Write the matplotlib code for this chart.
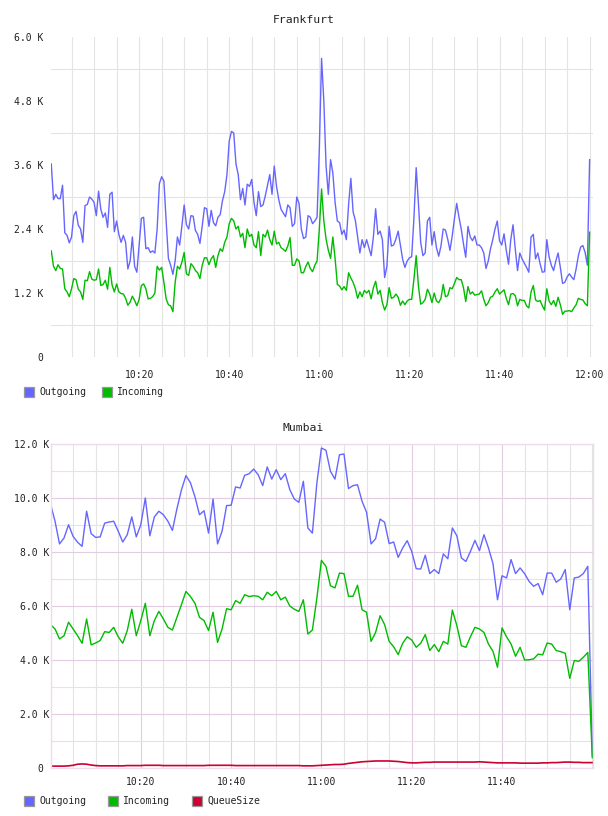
import matplotlib
matplotlib.use("Agg")
import matplotlib.pyplot as plt
import matplotlib.dates as mdates
from matplotlib.patches import Rectangle
from matplotlib.ticker import FixedLocator, FuncFormatter
import pandas as pd

# --- data (values in thousands) ---
# Frankfurt: one sample every 30 s, 10:00:30 .. 12:00:00
fra_outgoing = [
    3.62, 2.95, 3.05, 2.97, 2.97, 3.22, 2.33, 2.28, 2.14, 2.25,
    2.65, 2.73, 2.47, 2.40, 2.15, 2.84, 2.86, 3.00, 2.96, 2.90,
    2.65, 3.11, 2.77, 2.62, 2.70, 2.43, 3.05, 3.09, 2.35, 2.55,
    2.30, 2.15, 2.28, 2.15, 1.65, 1.80, 2.25, 1.70, 1.59, 2.10,
    2.60, 2.62, 2.03, 2.05, 1.96, 1.99, 1.95, 2.40, 3.25, 3.38,
    3.30, 2.55, 1.85, 1.72, 1.55, 1.80, 2.25, 2.10, 2.46, 2.85,
    2.48, 2.40,
    2.65, 2.64, 2.37, 2.30, 2.13, 2.45, 2.80, 2.78, 2.45, 2.75,
    2.52, 2.46, 2.62, 2.67, 2.93, 3.10, 3.42, 4.05, 4.23, 4.20,
    3.62, 3.42, 2.95, 3.16, 2.85, 3.24, 3.20, 3.33, 2.90, 2.65,
    3.10, 2.82, 2.85, 3.02, 3.22, 3.42, 3.05, 3.58, 3.20, 2.95,
    2.77, 2.70, 2.63, 2.85, 2.80, 2.45, 2.50, 3.00, 2.88, 2.40,
    2.22, 2.25, 2.65, 2.62, 2.50, 2.55, 2.62, 3.90,
    5.60,
    4.80, 3.58, 3.05, 3.70, 3.45, 2.90, 2.55, 2.52, 2.30, 2.38,
    2.20, 2.86, 3.35, 2.72, 2.56, 2.25, 1.95, 2.20, 2.05, 2.20,
    2.05, 1.90, 2.25, 2.78, 2.30, 2.36, 2.20, 1.49, 1.70, 2.45,
    2.08, 2.10, 2.21, 2.36, 2.10, 1.83, 1.68, 1.80, 1.86, 1.88,
    2.60, 3.55, 2.88, 2.15, 1.90, 1.95, 2.55, 2.62, 2.10, 2.35,
    2.05, 1.89, 2.08, 2.40, 2.38, 2.21, 2.00, 2.27, 2.60, 2.88,
    2.62,
    2.40, 2.12, 1.87, 2.45, 2.25, 2.18, 2.27, 2.10, 2.10, 2.05,
    1.95, 1.66, 1.80, 2.03, 2.20, 2.40, 2.55, 2.18, 2.10, 2.31,
    2.00, 1.74, 2.20, 2.48, 2.02, 1.62, 1.95, 1.84, 1.76, 1.68,
    1.59, 2.25, 2.30, 1.84, 1.95, 1.75, 1.59, 1.60, 2.20, 1.88,
    1.72, 1.62, 1.80, 1.95, 1.68, 1.38, 1.40, 1.50, 1.56, 1.50,
    1.45, 1.65, 1.90, 2.06, 2.09, 1.96, 1.72, 3.70,
]
fra_incoming = [
    1.99, 1.70, 1.62, 1.73, 1.66, 1.65, 1.28, 1.22, 1.13, 1.28,
    1.47, 1.45, 1.27, 1.22, 1.08, 1.44, 1.43, 1.60, 1.46, 1.44,
    1.45, 1.65, 1.34, 1.36, 1.44, 1.27, 1.68, 1.35, 1.22, 1.37,
    1.22, 1.19, 1.18, 1.10, 0.97, 1.03, 1.14, 1.06, 0.96, 1.08,
    1.34, 1.37, 1.28, 1.09, 1.10, 1.13, 1.20, 1.70, 1.63, 1.68,
    1.40, 1.09, 0.98, 0.96, 0.85, 1.40, 1.70, 1.65, 1.78, 1.96,
    1.56, 1.53,
    1.75, 1.70, 1.62, 1.58, 1.47, 1.72, 1.86, 1.86, 1.73, 1.84,
    1.90, 1.68, 1.90, 2.03, 1.98, 2.15, 2.25, 2.50, 2.60, 2.55,
    2.40, 2.45, 2.25, 2.32, 2.05, 2.40, 2.26, 2.30, 2.10, 2.05,
    2.35, 1.90, 2.30, 2.25, 2.38, 2.20, 2.10, 2.36, 2.12, 2.15,
    2.05, 2.02, 1.98, 2.08, 2.24, 1.72, 1.72, 1.84, 1.80, 1.58,
    1.58, 1.70, 1.78, 1.66, 1.60, 1.72, 1.80, 2.40,
    3.15,
    2.55, 2.21, 2.00, 1.85, 2.25, 1.85, 1.36, 1.33, 1.26, 1.32,
    1.25, 1.58, 1.48, 1.40, 1.28, 1.10, 1.22, 1.13, 1.25, 1.20,
    1.25, 1.09, 1.30, 1.42, 1.18, 1.25, 1.02, 0.88, 0.98, 1.30,
    1.10, 1.12, 1.18, 1.12, 0.97, 1.05, 0.98, 1.05, 1.08, 1.08,
    1.46, 1.90, 1.33, 0.99, 1.02, 1.08, 1.27, 1.18, 1.02, 1.20,
    1.05, 1.02, 1.10, 1.36, 1.13, 1.15, 1.30, 1.28, 1.38, 1.49,
    1.45,
    1.45, 1.30, 1.04, 1.32, 1.18, 1.22, 1.16, 1.17, 1.18, 1.24,
    1.08, 0.96, 1.02, 1.12, 1.14, 1.22, 1.28, 1.18, 1.22, 1.26,
    1.10, 0.98, 1.18, 1.19, 1.15, 0.96, 1.08, 1.06, 1.06, 0.96,
    0.92, 1.22, 1.34, 1.07, 1.04, 1.06, 0.96, 0.88, 1.28, 1.05,
    0.98, 1.06, 0.95, 1.12, 0.98, 0.80, 0.86, 0.86, 0.87, 0.85,
    0.92, 0.98, 1.10, 1.08, 1.07, 1.00, 0.96, 2.34,
]

# Mumbai: one sample per minute, 10:00 .. 12:00
mum_outgoing = [
    9.78, 9.14, 8.30, 8.52, 9.01, 8.58, 8.36, 8.21, 9.51, 8.68,
    8.54, 8.56, 9.07, 9.11, 9.14, 8.77, 8.37, 8.64, 9.30, 8.56,
    9.01, 10.0, 8.60, 9.30, 9.51, 9.38, 9.14, 8.80, 9.60, 10.30,
    10.83, 10.56, 10.04, 9.38, 9.53, 8.70, 9.96, 8.30, 8.77, 9.72,
    9.73, 10.41, 10.37, 10.84, 10.90, 11.07, 10.86, 10.46, 11.15, 10.70,
    11.05, 10.68, 10.90, 10.31, 9.96, 9.84, 10.62, 8.89, 8.70, 10.56,
    11.85, 11.77, 10.99, 10.70, 11.60, 11.63, 10.35, 10.46, 10.49, 9.88,
    9.47, 8.30, 8.49, 9.22, 9.10, 8.31, 8.37, 7.80, 8.15, 8.42,
    8.02, 7.38, 7.37, 7.88, 7.20, 7.35, 7.20, 7.93, 7.75, 8.89,
    8.60, 7.78, 7.65, 8.02, 8.43, 8.05, 8.64, 8.15, 7.57, 6.23,
    7.12, 7.04, 7.72, 7.20, 7.41, 7.20, 6.91, 6.73, 6.83, 6.42,
    7.22, 7.22, 6.88, 7.00, 7.35, 5.86, 7.04, 7.07, 7.20, 7.47,
    0.45,
]
mum_incoming = [
    5.31, 5.15, 4.78, 4.90, 5.40, 5.15, 4.90, 4.62, 5.52, 4.56,
    4.63, 4.72, 5.05, 5.02, 5.21, 4.86, 4.62, 5.09, 5.88, 4.90,
    5.46, 6.10, 4.90, 5.46, 5.80, 5.52, 5.21, 5.11, 5.58, 6.05,
    6.54, 6.35, 6.10, 5.58, 5.46, 5.09, 5.77, 4.65, 5.15, 5.90,
    5.86, 6.20, 6.10, 6.42, 6.35, 6.38, 6.36, 6.23, 6.51, 6.38,
    6.54, 6.23, 6.33, 6.00, 5.88, 5.80, 6.23, 4.96, 5.11, 6.30,
    7.69, 7.47, 6.75, 6.67, 7.22, 7.20, 6.36, 6.36, 6.77, 5.86,
    5.77, 4.69, 5.02, 5.64, 5.31, 4.69, 4.49, 4.20, 4.62, 4.86,
    4.74, 4.47, 4.62, 4.94, 4.35, 4.57, 4.31, 4.69, 4.59, 5.85,
    5.27, 4.53, 4.47, 4.86, 5.21, 5.15, 5.02, 4.59, 4.32, 3.73,
    5.19, 4.86, 4.59, 4.14, 4.47, 4.00, 4.01, 4.04, 4.22, 4.19,
    4.63, 4.59, 4.35, 4.31, 4.25, 3.32, 3.98, 3.95, 4.10, 4.28,
    0.38,
]
mum_queue = [
    0.07, 0.07, 0.07, 0.07, 0.08, 0.10, 0.14, 0.15, 0.14, 0.11,
    0.09, 0.08, 0.08, 0.08, 0.08, 0.08, 0.08, 0.09, 0.09, 0.09,
    0.09, 0.10, 0.10, 0.10, 0.10, 0.09, 0.09, 0.09, 0.09, 0.09,
    0.09, 0.09, 0.09, 0.09, 0.09, 0.10, 0.10, 0.10, 0.10, 0.10,
    0.10, 0.09, 0.09, 0.09, 0.09, 0.09, 0.09, 0.09, 0.09, 0.09,
    0.09, 0.09, 0.09, 0.09, 0.09, 0.09, 0.08, 0.08, 0.08, 0.09,
    0.10, 0.11, 0.12, 0.13, 0.13, 0.14, 0.17, 0.19, 0.21, 0.23,
    0.24, 0.25, 0.26, 0.26, 0.26, 0.26, 0.25, 0.24, 0.22, 0.20,
    0.19, 0.19, 0.20, 0.21, 0.21, 0.22, 0.22, 0.22, 0.22, 0.22,
    0.22, 0.22, 0.22, 0.22, 0.22, 0.23, 0.22, 0.21, 0.20, 0.19,
    0.19, 0.19, 0.19, 0.19, 0.18, 0.18, 0.18, 0.18, 0.18, 0.19,
    0.19, 0.20, 0.20, 0.21, 0.22, 0.22, 0.21, 0.21, 0.20, 0.20,
    0.20,
]

fra_times = pd.date_range("2024-01-01 10:00:30", periods=len(fra_outgoing), freq="30s").to_pydatetime()
mum_times = pd.date_range("2024-01-01 10:00:00", periods=len(mum_outgoing), freq="1min").to_pydatetime()
fra_labels = ["10:20", "10:40", "11:00", "11:20", "11:40", "12:00"]
mum_labels = ["10:20", "10:40", "11:00", "11:20", "11:40"]

BLUE = "#6666ff"
GREEN = "#00bb00"
RED = "#cc0033"
GRID = "#e4e4e4"
PINK = "#e2cce2"
TXT = "#222222"
FONT = "DejaVu Sans Mono"

W, H = 608, 816
fig = plt.figure(figsize=(W / 100, H / 100), dpi=100)
fig.patch.set_facecolor("white")


def box(left, top, right, bottom):
    return [left / W, 1 - bottom / H, (right - left) / W, (bottom - top) / H]


def at(label):
    return mdates.date2num(pd.Timestamp("2024-01-01 " + label).to_pydatetime())


def kfmt(v, pos, zero="0"):
    if abs(v) < 1e-9:
        return zero
    return f"{v:.1f} K"


def legend(names, colors, y, colw):
    for i, (name, color) in enumerate(zip(names, colors)):
        x0 = 24 + i * colw
        fig.add_artist(Rectangle((x0 / W, 1 - (y + 5) / H), 10 / W, 10 / H,
                                 transform=fig.transFigure, facecolor=color,
                                 edgecolor="#999999", lw=0.9))
        fig.text((x0 + 15) / W, 1 - y / H, name, ha="left", va="center",
                 family=FONT, fontsize=7, color=TXT)


# --- Frankfurt ---
ax1 = fig.add_axes(box(51, 37, 593, 357))
ax1.plot(fra_times, fra_outgoing, color=BLUE, lw=1.0)
ax1.plot(fra_times, fra_incoming, color=GREEN, lw=1.0)
ax1.set_ylim(0, 6.0)
ax1.set_xlim(at("10:00") + 0.44 / 1440, at("10:00") + 120.75 / 1440)
ax1.yaxis.set_major_locator(FixedLocator([0, 1.2, 2.4, 3.6, 4.8, 6.0]))
ax1.yaxis.set_minor_locator(FixedLocator([0.6, 1.8, 3.0, 4.2, 5.4]))
ax1.yaxis.set_major_formatter(FuncFormatter(kfmt))
ax1.xaxis.set_major_locator(FixedLocator([at(s) for s in fra_labels]))
ax1.xaxis.set_minor_locator(mdates.MinuteLocator(byminute=range(0, 60, 5)))
ax1.xaxis.set_major_formatter(mdates.DateFormatter("%H:%M"))
ax1.xaxis.grid(True, which="both", color=GRID, lw=0.8)
ax1.yaxis.grid(True, which="minor", color=GRID, lw=0.8)
ax1.yaxis.grid(False, which="major")
ax1.set_axisbelow(True)
for s in ax1.spines.values():
    s.set_visible(False)
ax1.tick_params(which="both", length=0, labelsize=7, labelcolor=TXT)
ax1.tick_params(axis="y", pad=5.8)
ax1.tick_params(axis="x", pad=9.0)
for lab in ax1.get_xticklabels() + ax1.get_yticklabels():
    lab.set_family(FONT)
fig.text(304 / W, 1 - 20 / H, "Frankfurt", ha="center", va="center",
         family=FONT, fontsize=8.2, color=TXT)
legend(["Outgoing", "Incoming"], [BLUE, GREEN], 392, 78)

# --- Mumbai ---
ax2 = fig.add_axes(box(50.5, 444, 593, 768))
ax2.plot(mum_times, mum_outgoing, color=BLUE, lw=1.0)
ax2.plot(mum_times, mum_incoming, color=GREEN, lw=1.0)
ax2.plot(mum_times, mum_queue, color=RED, lw=1.2)
ax2.set_ylim(0, 12.0)
ax2.set_xlim(at("10:00"), at("10:00") + 120.15 / 1440)
ax2.yaxis.set_major_locator(FixedLocator([0, 2, 4, 6, 8, 10, 12]))
ax2.yaxis.set_minor_locator(FixedLocator([1, 3, 5, 7, 9, 11]))
ax2.yaxis.set_major_formatter(FuncFormatter(lambda v, p: kfmt(v, p, zero="0 ")))
ax2.xaxis.set_major_locator(FixedLocator([at(s) for s in mum_labels]))
ax2.xaxis.set_minor_locator(mdates.MinuteLocator(byminute=range(0, 60, 5)))
ax2.xaxis.set_major_formatter(mdates.DateFormatter("%H:%M"))
ax2.grid(True, which="minor", color=GRID, lw=0.8)
ax2.grid(True, which="major", color=PINK, lw=0.8)
ax2.set_axisbelow(True)
for s in ax2.spines.values():
    s.set_color("#eedcee")
    s.set_linewidth(1.0)
ax2.tick_params(which="both", length=0, labelsize=7, labelcolor=TXT)
ax2.tick_params(axis="y", pad=0.6)
ax2.tick_params(axis="x", pad=6.8)
for lab in ax2.get_xticklabels() + ax2.get_yticklabels():
    lab.set_family(FONT)
fig.text(303 / W, 1 - 428 / H, "Mumbai", ha="center", va="center",
         family=FONT, fontsize=8.2, color=TXT)
legend(["Outgoing", "Incoming", "QueueSize"], [BLUE, GREEN, RED], 800.5, 84)

fig.savefig("out.png", dpi=100)
